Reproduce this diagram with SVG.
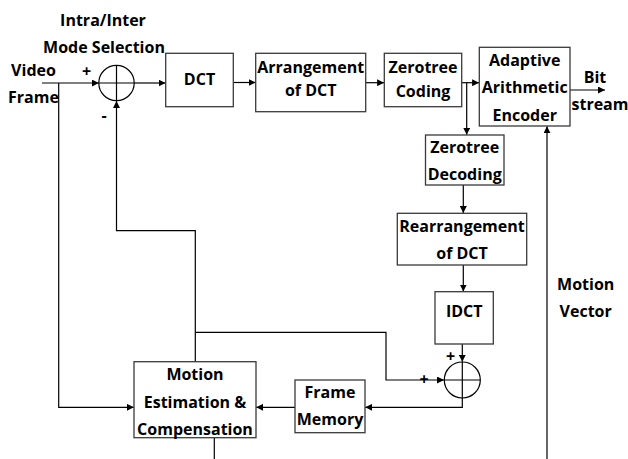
<svg xmlns="http://www.w3.org/2000/svg" width="628" height="459" viewBox="0 0 628 459">
<style>
.box{fill:#fff;stroke:#3a3a3a;stroke-width:1.3}
.ln{fill:none;stroke:#000;stroke-width:1.2}
.arr{fill:none;stroke:#000;stroke-width:1.2;marker-end:url(#ah)}
text{font-family:"Open Sans","Liberation Sans",sans-serif;font-weight:bold;font-size:16px;fill:#000}
.c{text-anchor:middle}
</style>
<defs>
<marker id="ah" viewBox="0 0 10 10" refX="10" refY="5" markerWidth="7" markerHeight="7" markerUnits="userSpaceOnUse" orient="auto">
<path d="M0,0 L10,5 L0,10 Z" fill="#000"/>
</marker>
</defs>
<rect width="628" height="459" fill="#fff"/>
<g id="connectors">
<path class="arr" d="M42,83 H98.8"/>
<path class="arr" d="M58.7,83 V407.3 H133.8"/>
<path class="arr" d="M134.2,83 H165.5"/>
<path class="arr" d="M233.3,82.5 H255.5"/>
<path class="arr" d="M365.7,82.7 H384.1"/>
<path class="arr" d="M461.7,82.7 H479.1"/>
<path class="arr" d="M466.7,82.7 V134.8"/>
<path class="arr" d="M463.3,185 V213.1"/>
<path class="arr" d="M463.3,265 V291.5"/>
<path class="arr" d="M462.3,344 V361.8"/>
<path class="arr" d="M570,90 H605"/>
<path class="arr" d="M547,459 V126.2"/>
<path class="arr" d="M195.3,361.7 V230.7 H116.5 V101"/>
<path class="arr" d="M195.3,332.3 H386 V380 H444"/>
<path class="arr" d="M462.3,398 V407.3 H365.2"/>
<path class="arr" d="M295,407.3 H256.2"/>
<path class="ln" d="M214.3,437.7 V459"/>
</g>
<g id="sum1">
<circle cx="116.5" cy="83" r="17.7" fill="none" stroke="#000" stroke-width="1.2"/>
<path class="ln" d="M98.8,83 H134.2 M116.5,65.3 V100.7"/>
<text x="86.5" y="77" class="c">+</text>
<text x="104" y="121" class="c">-</text>
</g>
<g id="sum2">
<circle cx="462.3" cy="380" r="18" fill="none" stroke="#000" stroke-width="1.2"/>
<path class="ln" d="M444.3,380 H480.3 M462.3,362 V398"/>
<text x="424" y="385" class="c">+</text>
<text x="450.7" y="362" class="c">+</text>
</g>
<g id="mode-label">
<text x="103" y="26" class="c">Intra/Inter</text>
<text x="104" y="52.7" class="c">Mode Selection</text>
</g>
<g id="video-label">
<text x="33.5" y="76" class="c">Video</text>
<text x="33.5" y="103" class="c">Frame</text>
</g>
<g id="dct">
<rect class="box" x="165.7" y="53.3" width="67.6" height="53.4"/>
<text x="199.5" y="85" class="c">DCT</text>
</g>
<g id="arrangement">
<rect class="box" x="255.7" y="53.3" width="110" height="58.4"/>
<text x="310.7" y="73.3" class="c">Arrangement</text>
<text x="310.7" y="95.5" class="c">of DCT</text>
</g>
<g id="zerotree-coding">
<rect class="box" x="384.3" y="53.3" width="77.4" height="53.4"/>
<text x="423" y="73.3" class="c">Zerotree</text>
<text x="423" y="96.7" class="c">Coding</text>
</g>
<g id="adaptive">
<rect class="box" x="479.3" y="47.3" width="90.7" height="78.7"/>
<text x="524.7" y="66" class="c">Adaptive</text>
<text x="524.7" y="93.3" class="c">Arithmetic</text>
<text x="524.7" y="120.5" class="c">Encoder</text>
</g>
<g id="bitstream-label">
<text x="595" y="82.7" class="c">Bit</text>
<text x="600" y="110" class="c">stream</text>
</g>
<g id="zerotree-decoding">
<rect class="box" x="425.5" y="135" width="78.5" height="50"/>
<text x="464.7" y="153.3" class="c">Zerotree</text>
<text x="464.7" y="180" class="c">Decoding</text>
</g>
<g id="rearrangement">
<rect class="box" x="397.3" y="213.3" width="129.4" height="51.7"/>
<text x="462" y="231.7" class="c">Rearrangement</text>
<text x="462" y="259" class="c">of DCT</text>
</g>
<g id="idct">
<rect class="box" x="435" y="291.7" width="58.3" height="52.3"/>
<text x="464.2" y="316.7" class="c">IDCT</text>
</g>
<g id="motion-vector-label">
<text x="585.7" y="290" class="c">Motion</text>
<text x="585.7" y="316.7" class="c">Vector</text>
</g>
<g id="motion-estimation">
<rect class="box" x="134" y="361.7" width="122" height="76"/>
<text x="195" y="380" class="c">Motion</text>
<text x="195" y="408.3" class="c">Estimation &amp;</text>
<text x="195" y="435" class="c">Compensation</text>
</g>
<g id="frame-memory">
<rect class="box" x="295" y="380" width="70" height="52.7"/>
<text x="330" y="398.3" class="c">Frame</text>
<text x="330" y="425" class="c">Memory</text>
</g>
</svg>
